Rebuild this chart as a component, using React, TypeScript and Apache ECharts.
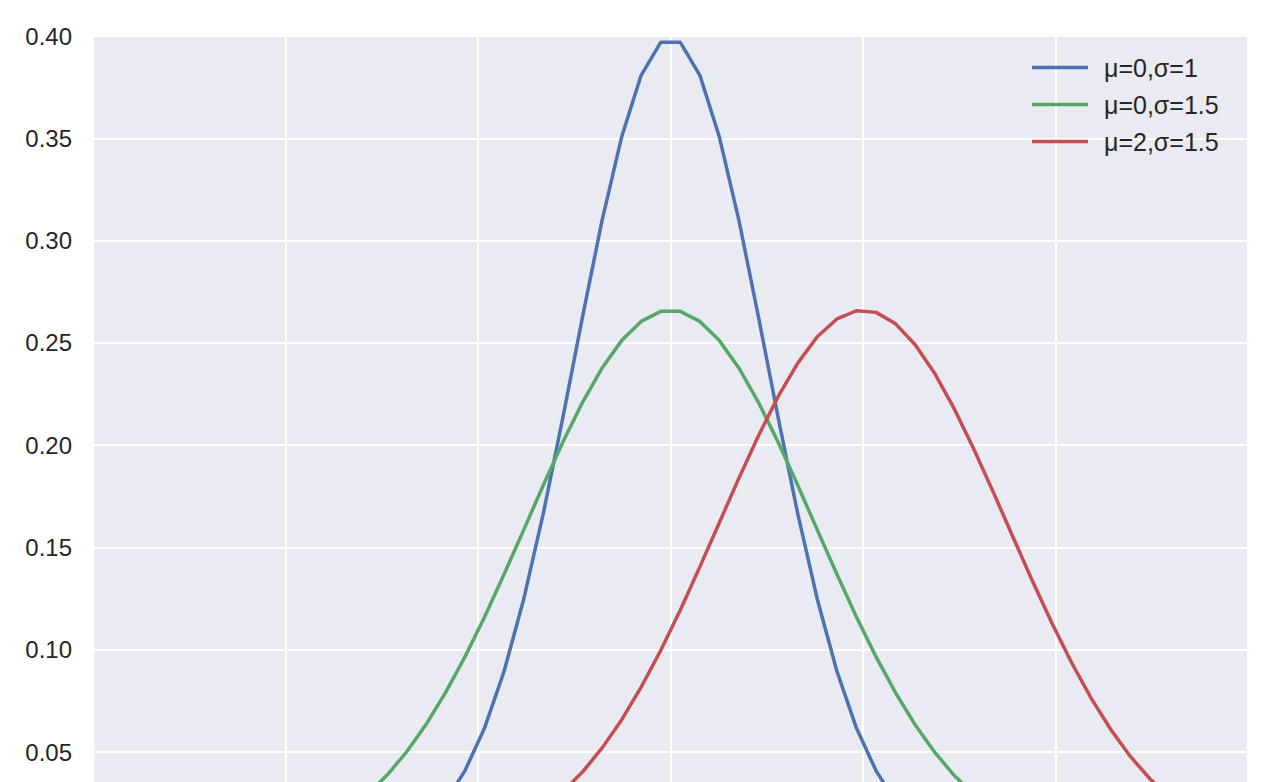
import React, { useEffect, useRef } from "react";
import * as echarts from "echarts";

const xValues = [
  -6.0, -5.797, -5.593, -5.39, -5.186, -4.983, -4.78, -4.576, -4.373, -4.169,
  -3.966, -3.763, -3.559, -3.356, -3.153, -2.949, -2.746, -2.542, -2.339, -2.136,
  -1.932, -1.729, -1.525, -1.322, -1.119, -0.915, -0.712, -0.508, -0.305, -0.102,
  0.102, 0.305, 0.508, 0.712, 0.915, 1.119, 1.322, 1.525, 1.729, 1.932,
  2.136, 2.339, 2.542, 2.746, 2.949, 3.153, 3.356, 3.559, 3.763, 3.966,
  4.169, 4.373, 4.576, 4.78, 4.983, 5.186, 5.39, 5.593, 5.797, 6.0,
];

const blueValues = [
  0, 0, 0, 0, 0, 0, 0, 0, 0, 0,
  0.0001, 0.0003, 0.0007, 0.0014, 0.0028, 0.0052, 0.0092, 0.0158, 0.0259, 0.0408,
  0.0617, 0.0895, 0.1247, 0.1665, 0.2133, 0.2625, 0.3096, 0.3506, 0.3808, 0.3969,
  0.3969, 0.3808, 0.3506, 0.3096, 0.2625, 0.2133, 0.1665, 0.1247, 0.0895, 0.0617,
  0.0408, 0.0259, 0.0158, 0.0092, 0.0052, 0.0028, 0.0014, 0.0007, 0.0003, 0.0001,
  0, 0, 0, 0, 0, 0, 0, 0, 0, 0,
];

const greenValues = [
  0.0001, 0.0002, 0.0003, 0.0004, 0.0007, 0.0011, 0.0017, 0.0025, 0.0038, 0.0056,
  0.0081, 0.0114, 0.0159, 0.0218, 0.0292, 0.0385, 0.0498, 0.0633, 0.0789, 0.0965,
  0.116, 0.1369, 0.1586, 0.1804, 0.2014, 0.2208, 0.2376, 0.2511, 0.2605, 0.2654,
  0.2654, 0.2605, 0.2511, 0.2376, 0.2208, 0.2014, 0.1804, 0.1586, 0.1369, 0.116,
  0.0965, 0.0789, 0.0633, 0.0498, 0.0385, 0.0292, 0.0218, 0.0159, 0.0114, 0.0081,
  0.0056, 0.0038, 0.0025, 0.0017, 0.0011, 0.0007, 0.0004, 0.0003, 0.0002, 0.0001,
];

const redValues = [
  0, 0, 0, 0, 0, 0, 0, 0, 0, 0.0001,
  0.0001, 0.0002, 0.0003, 0.0005, 0.0007, 0.0011, 0.0018, 0.0027, 0.0041, 0.0059,
  0.0086, 0.0121, 0.0168, 0.0229, 0.0306, 0.0402, 0.0519, 0.0657, 0.0817, 0.0996,
  0.1194, 0.1405, 0.1622, 0.184, 0.2047, 0.2238, 0.2401, 0.253, 0.2617, 0.2657,
  0.2649, 0.2593, 0.2491, 0.235, 0.2177, 0.1979, 0.1768, 0.155, 0.1333, 0.1127,
  0.0935, 0.0761, 0.0609, 0.0477, 0.0368, 0.0279, 0.0207, 0.0151, 0.0108, 0.0076,
];

const seriesNames = ["μ=0,σ=1", "μ=0,σ=1.5", "μ=2,σ=1.5"];
const seriesColors = ["#4C72B0", "#55A868", "#C44E52"];

const FONT = "'Liberation Sans', Arial, sans-serif";

export default function App() {
  const ref = useRef<HTMLDivElement>(null);

  useEffect(() => {
    if (!ref.current) return;
    const chart = echarts.init(ref.current, undefined, { renderer: "svg" });
    const allValues = [blueValues, greenValues, redValues];
    chart.setOption({
      animation: false,
      backgroundColor: "#ffffff",
      textStyle: { fontFamily: FONT },
      grid: {
        left: 93,
        right: 32,
        top: 36,
        bottom: 45.7,
        show: true,
        backgroundColor: "#EAEAF2",
        borderWidth: 0,
        containLabel: false,
      },
      legend: {
        orient: "vertical",
        left: 1032,
        top: 55,
        padding: 0,
        icon: "rect",
        itemWidth: 56,
        itemHeight: 3.5,
        itemGap: 12,
        textStyle: {
          fontFamily: FONT,
          fontSize: 25,
          color: "#262626",
          lineHeight: 25,
          padding: [0, 0, 0, 11],
        },
        data: seriesNames,
      },
      xAxis: {
        type: "value",
        min: -6,
        max: 6,
        interval: 2,
        axisLine: { show: false },
        axisTick: { show: false },
        axisLabel: { fontSize: 24, color: "#262626", fontFamily: FONT, margin: 12 },
        splitLine: { show: true, lineStyle: { color: "#ffffff", width: 2 } },
      },
      yAxis: {
        type: "value",
        min: 0,
        max: 0.4,
        interval: 0.05,
        axisLine: { show: false },
        axisTick: { show: false },
        axisLabel: {
          fontSize: 24,
          color: "#262626",
          fontFamily: FONT,
          margin: 21,
          padding: [0, 0, 5, 0],
          formatter: (v: number) => v.toFixed(2),
        },
        splitLine: { show: true, lineStyle: { color: "#ffffff", width: 2 } },
      },
      series: seriesNames.map((name, k) => ({
        name,
        type: "line",
        data: xValues.map((x, i) => [x, allValues[k][i]]),
        showSymbol: false,
        symbol: "none",
        color: seriesColors[k],
        lineStyle: { color: seriesColors[k], width: 3.5 },
        clip: true,
      })),
    });
    return () => chart.dispose();
  }, []);

  return (
    <div
      style={{
        position: "absolute",
        left: 0,
        top: 0,
        width: 1280,
        height: 782,
        overflow: "hidden",
        background: "#ffffff",
      }}
    >
      <div ref={ref} style={{ width: 1280, height: 900 }} />
    </div>
  );
}
